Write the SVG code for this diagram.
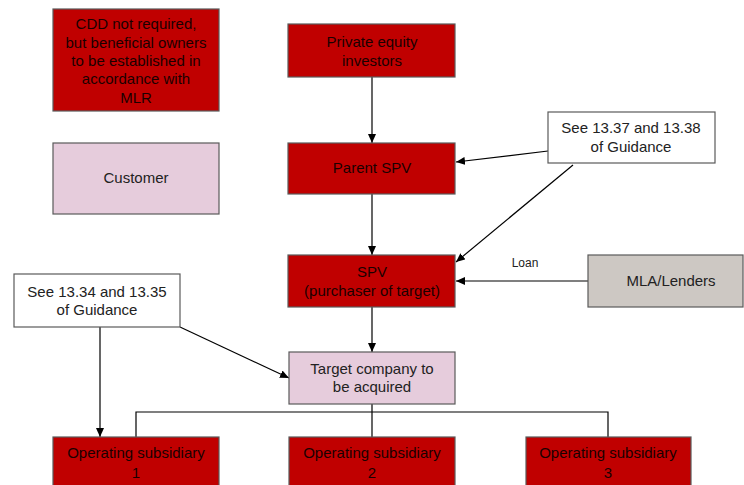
<svg xmlns="http://www.w3.org/2000/svg" width="744" height="485" viewBox="0 0 744 485">
<defs>
<marker id="ah" markerWidth="9" markerHeight="8" refX="9" refY="4" orient="auto" markerUnits="userSpaceOnUse">
<path d="M0,0 L9,4 L0,8 Z" fill="#000"/>
</marker>
<style>
.red{fill:#C00000;stroke:#5a5a5a;stroke-width:1.2}
.pink{fill:#E6CCDC;stroke:#5a5a5a;stroke-width:1.2}
.white{fill:#fff;stroke:#5a5a5a;stroke-width:1.2}
.grey{fill:#CDC8C3;stroke:#5a5a5a;stroke-width:1.2}
text{font-family:"Liberation Sans",Arial,sans-serif;font-size:15px;text-anchor:middle}
.rt{fill:#1a0000}
.dt{fill:#222}
.ln{fill:none;stroke:#000;stroke-width:1.2}
.ar{fill:none;stroke:#000;stroke-width:1.2;marker-end:url(#ah)}
</style>
</defs>
<rect width="744" height="485" fill="#fff"/>
<g id="connectors">
<line class="ar" x1="372" y1="77" x2="372" y2="143"/>
<line class="ar" x1="372" y1="194" x2="372" y2="255"/>
<line class="ar" x1="372" y1="307" x2="372" y2="352"/>
<line class="ar" x1="548" y1="151" x2="456" y2="162"/>
<line class="ar" x1="573" y1="165" x2="456" y2="262"/>
<line class="ar" x1="588" y1="281" x2="456" y2="281"/>
<line class="ar" x1="180" y1="327" x2="289" y2="378"/>
<line class="ar" x1="100" y1="327" x2="100" y2="437"/>
<polyline class="ln" points="136,437 136,412 608,412 608,437"/>
<line class="ln" x1="372" y1="404" x2="372" y2="437"/>
<text x="525" y="267" style="font-size:12px" class="dt">Loan</text>
</g>
<g id="cdd">
<rect class="red" x="53" y="9" width="166" height="102"/>
<text class="rt" x="136" y="29">CDD not required,</text>
<text class="rt" x="136" y="48">but beneficial owners</text>
<text class="rt" x="136" y="66">to be established in</text>
<text class="rt" x="136" y="84">accordance with</text>
<text class="rt" x="136" y="103">MLR</text>
</g>
<g id="customer">
<rect class="pink" x="53" y="143" width="166" height="71"/>
<text class="dt" x="136" y="183">Customer</text>
</g>
<g id="pe">
<rect class="red" x="288" y="24" width="167" height="53"/>
<text class="rt" x="372" y="47">Private equity</text>
<text class="rt" x="372" y="66">investors</text>
</g>
<g id="parent">
<rect class="red" x="288" y="143" width="167" height="51"/>
<text class="rt" x="372" y="173">Parent SPV</text>
</g>
<g id="guid1">
<rect class="white" x="548" y="112" width="167" height="51"/>
<text class="dt" x="631" y="133">See 13.37 and 13.38</text>
<text class="dt" x="631" y="152">of Guidance</text>
</g>
<g id="spv">
<rect class="red" x="288" y="255" width="167" height="52"/>
<text class="rt" x="372" y="277">SPV</text>
<text class="rt" x="372" y="296">(purchaser of target)</text>
</g>
<g id="mla">
<rect class="grey" x="588" y="255" width="155" height="52"/>
<text class="dt" x="671" y="286">MLA/Lenders</text>
</g>
<g id="guid2">
<rect class="white" x="14" y="274" width="166" height="53"/>
<text class="dt" x="97" y="297">See 13.34 and 13.35</text>
<text class="dt" x="97" y="315">of Guidance</text>
</g>
<g id="target">
<rect class="pink" x="289" y="352" width="166" height="52"/>
<text class="dt" x="372" y="374">Target company to</text>
<text class="dt" x="372" y="392">be acquired</text>
</g>
<g id="op1">
<rect class="red" x="53" y="437" width="166" height="52"/>
<text class="rt" x="136" y="458">Operating subsidiary</text>
<text class="rt" x="136" y="478">1</text>
</g>
<g id="op2">
<rect class="red" x="289" y="437" width="166" height="52"/>
<text class="rt" x="372" y="458">Operating subsidiary</text>
<text class="rt" x="372" y="478">2</text>
</g>
<g id="op3">
<rect class="red" x="526" y="437" width="165" height="52"/>
<text class="rt" x="608" y="458">Operating subsidiary</text>
<text class="rt" x="608" y="478">3</text>
</g>
</svg>
